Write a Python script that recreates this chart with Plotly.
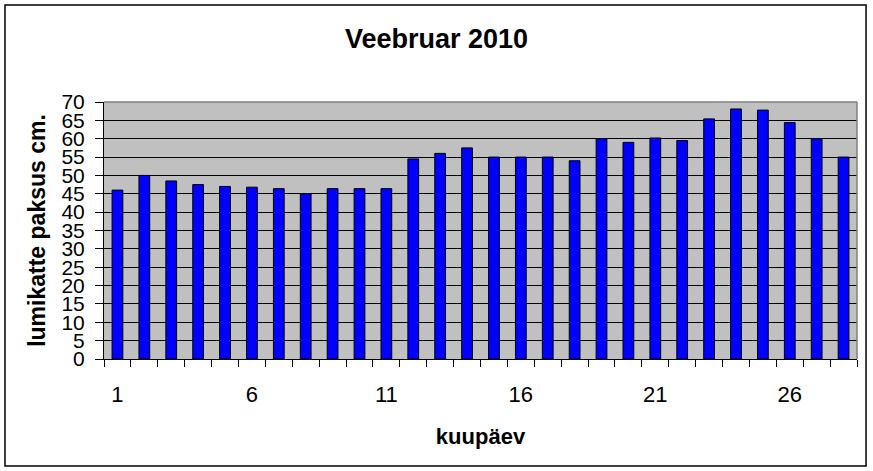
import plotly.graph_objects as go

# snow depth, February 2010
days = list(range(1, 29))
depth_cm = [46, 50, 48.5, 47.5, 47, 46.8, 46.4, 45, 46.4, 46.4, 46.4, 54.5, 56, 57.5,
            55, 55, 55, 54, 60, 59, 60.2, 59.5, 65.4, 68.1, 67.8, 64.4, 60, 55]
x_tick_days = [1, 6, 11, 16, 21, 26]
y_ticks = list(range(0, 75, 5))

font_family = "Liberation Sans, Arial, sans-serif"

fig = go.Figure()

fig.add_trace(go.Bar(
    x=days, y=depth_cm,
    marker=dict(color="#0000FF", line=dict(color="black", width=1)),
    showlegend=False,
))

fig.update_layout(
    width=873, height=471,
    margin=dict(l=104, r=16, t=102, b=112),
    paper_bgcolor="white",
    plot_bgcolor="#C0C0C0",
    bargap=0.6,
    font=dict(family=font_family, color="black"),
    title=dict(
        text="<b>Veebruar 2010</b>",
        font=dict(size=27, family=font_family, color="black"),
        x=0.5, xanchor="center", y=1 - 39 / 471, yanchor="middle",
    ),
)

fig.update_xaxes(
    range=[0.5, 28.5],
    tickvals=x_tick_days,
    ticktext=[str(d) for d in x_tick_days],
    ticks="",
    ticklabelstandoff=16,
    tickfont=dict(size=22),
    minor=dict(tickmode="linear", tick0=0.5, dtick=1, ticks="outside",
               ticklen=7, tickcolor="black", tickwidth=1, showgrid=False),
    showline=True, linecolor="black", linewidth=1,
    showgrid=False, zeroline=False,
    title=dict(text="<b>kuupäev</b>", font=dict(size=22), standoff=22),
)

fig.update_yaxes(
    range=[0, 70],
    tickvals=y_ticks,
    ticks="outside", ticklen=8, tickcolor="black",
    ticklabelstandoff=6,
    tickfont=dict(size=21),
    showline=True, linecolor="black", linewidth=1,
    showgrid=True, gridcolor="black", gridwidth=1,
    zeroline=False,
    title=dict(text="<b>lumikatte paksus cm.</b>", font=dict(size=23), standoff=9),
)

# grey top/right edges of the plot area and black outer chart frame
fig.add_shape(type="line", xref="x domain", yref="y domain", x0=0, x1=1, y0=1, y1=1,
              line=dict(color="#808080", width=1.5), layer="above")
fig.add_shape(type="line", xref="x domain", yref="y domain", x0=1, x1=1, y0=0, y1=1,
              line=dict(color="#808080", width=1.5), layer="above")
fig.add_shape(type="rect", xref="paper", yref="paper",
              x0=-0.1315, x1=1.012, y0=-0.4163, y1=1.3774,
              line=dict(color="black", width=1.5), layer="above")

# drop the default 8px page margin so the figure fills the window
fig.write_html("out.html", config={"displayModeBar": False},
               post_script="document.body.style.margin='0';")
